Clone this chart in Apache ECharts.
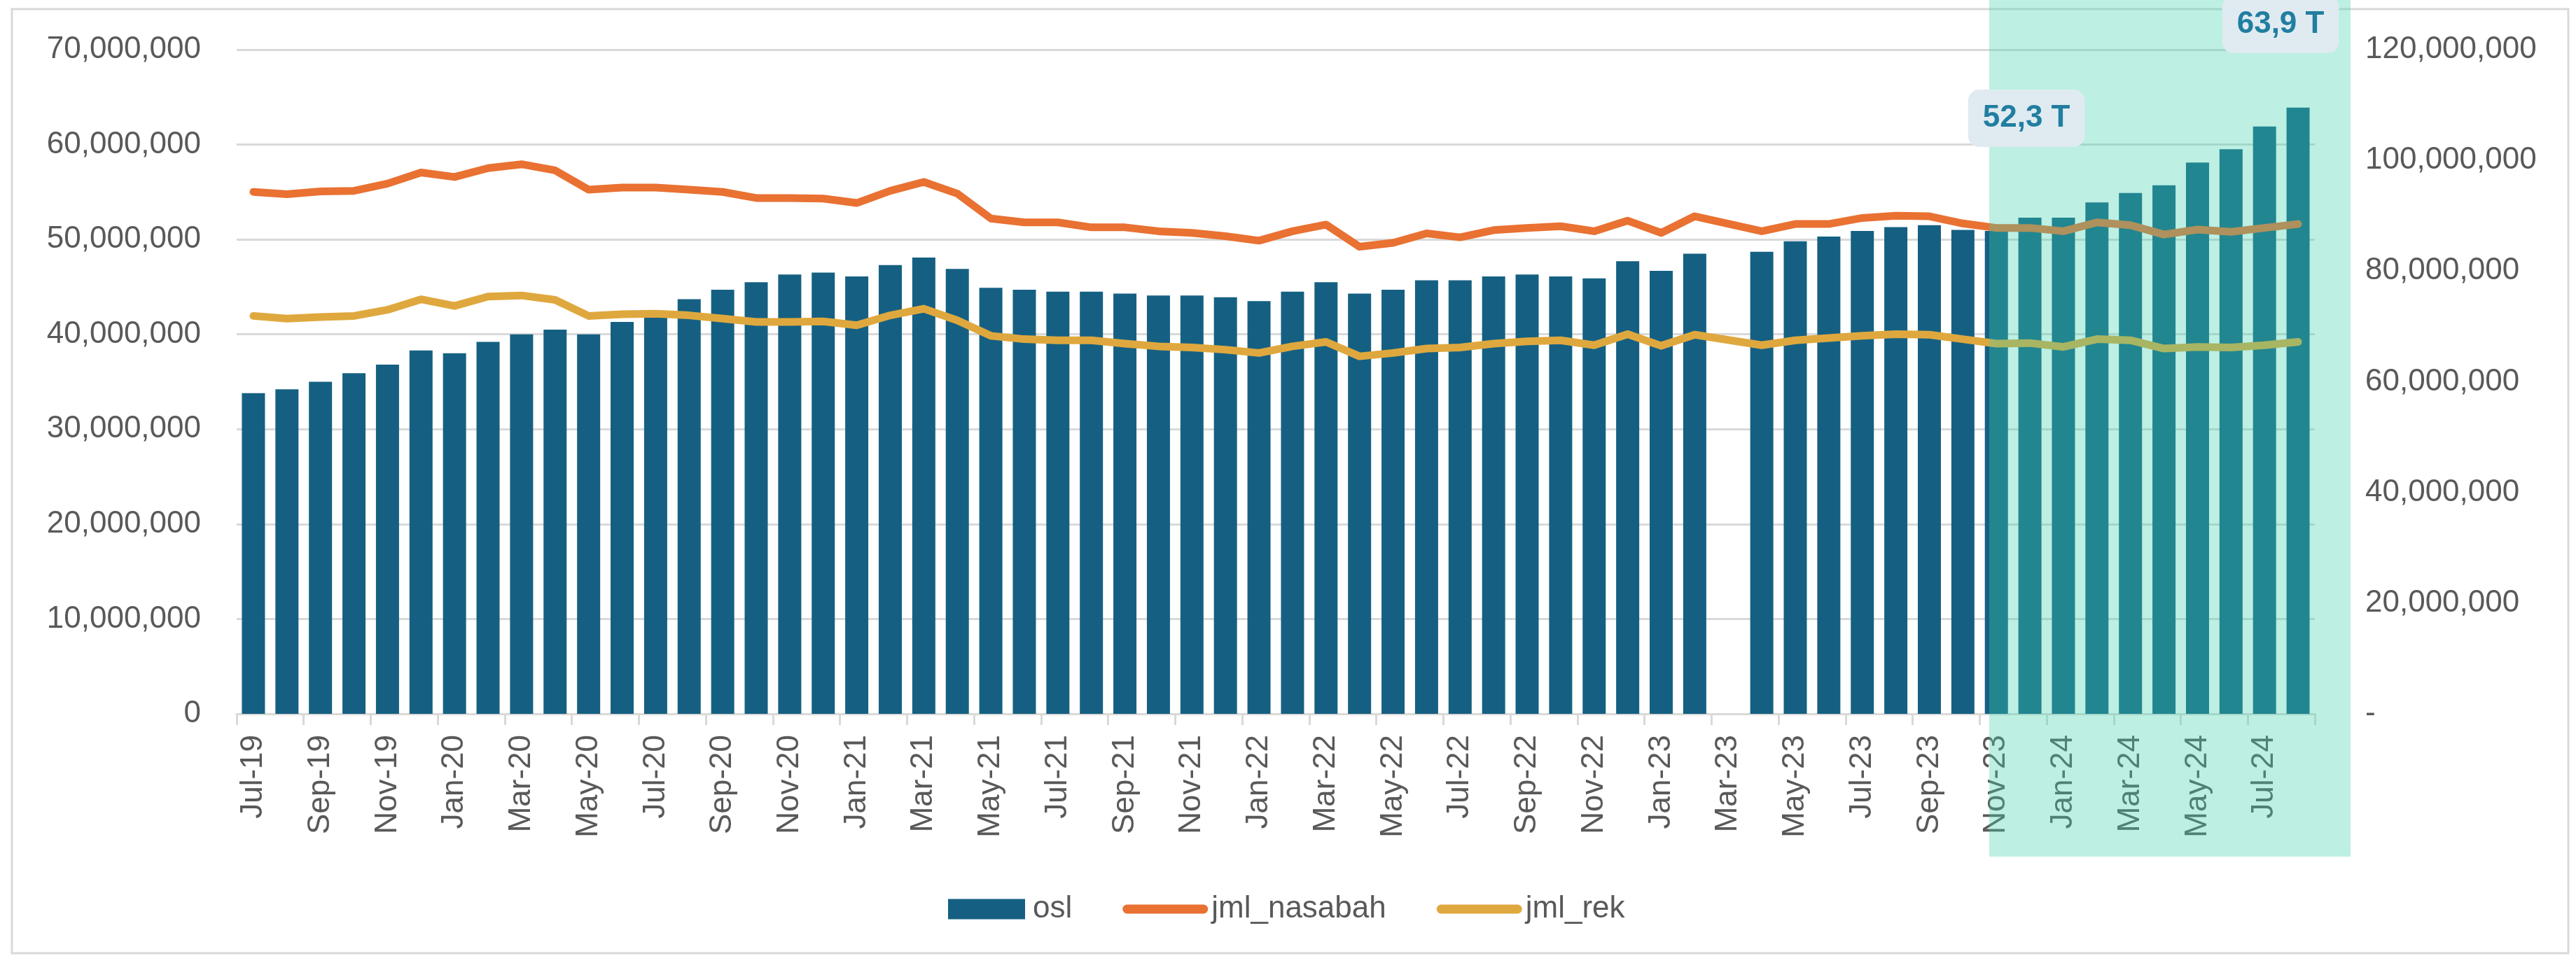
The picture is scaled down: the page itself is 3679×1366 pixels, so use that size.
<!DOCTYPE html>
<html>
<head>
<meta charset="utf-8">
<script src="https://cdn.jsdelivr.net/npm/echarts@6/dist/echarts.min.js"></script>
<style>
html, body { margin: 0; padding: 0; background: #fff; }
#chart { width: 3679px; height: 1366px; }
</style>
</head>
<body>
<div id="chart"></div>
<script>
const months = [
    'Jul-19', 'Aug-19', 'Sep-19', 'Oct-19', 'Nov-19', 'Dec-19',
    'Jan-20', 'Feb-20', 'Mar-20', 'Apr-20', 'May-20', 'Jun-20', 'Jul-20', 'Aug-20', 'Sep-20', 'Oct-20', 'Nov-20', 'Dec-20',
    'Jan-21', 'Feb-21', 'Mar-21', 'Apr-21', 'May-21', 'Jun-21', 'Jul-21', 'Aug-21', 'Sep-21', 'Oct-21', 'Nov-21', 'Dec-21',
    'Jan-22', 'Feb-22', 'Mar-22', 'Apr-22', 'May-22', 'Jun-22', 'Jul-22', 'Aug-22', 'Sep-22', 'Oct-22', 'Nov-22', 'Dec-22',
    'Jan-23', 'Feb-23', 'Mar-23', 'Apr-23', 'May-23', 'Jun-23', 'Jul-23', 'Aug-23', 'Sep-23', 'Oct-23', 'Nov-23', 'Dec-23',
    'Jan-24', 'Feb-24', 'Mar-24', 'Apr-24', 'May-24', 'Jun-24', 'Jul-24', 'Aug-24'
]

// outstanding (juta rupiah), Mar-23 kosong
const osl = [
    33800000, 34200000, 35000000, 35900000, 36800000, 38300000,
    38000000, 39200000, 40000000, 40500000, 40000000, 41300000, 42000000, 43700000, 44700000, 45500000, 46300000, 46500000,
    46100000, 47300000, 48100000, 46900000, 44900000, 44700000, 44500000, 44500000, 44300000, 44100000, 44100000, 43900000,
    43500000, 44500000, 45500000, 44300000, 44700000, 45700000, 45700000, 46100000, 46300000, 46100000, 45900000, 47700000,
    46700000, 48500000, null, 48700000, 49800000, 50300000, 50900000, 51300000, 51500000, 51000000, 50900000, 52300000,
    52300000, 53900000, 54900000, 55700000, 58100000, 59500000, 61900000, 63900000
]

const jmlNasabah = [
    94300000, 93900000, 94400000, 94500000, 95800000, 97800000,
    97000000, 98600000, 99300000, 98200000, 94700000, 95100000, 95100000, 94700000, 94300000, 93200000, 93200000, 93100000,
    92300000, 94500000, 96100000, 94000000, 89500000, 88800000, 88800000, 87900000, 87900000, 87200000, 86900000, 86300000,
    85500000, 87200000, 88400000, 84400000, 85100000, 86800000, 86100000, 87400000, 87800000, 88100000, 87200000, 89100000,
    86900000, 89900000, null, 87200000, 88500000, 88500000, 89600000, 90000000, 89900000, 88600000, 87800000, 87800000,
    87200000, 88800000, 88300000, 86600000, 87500000, 87100000, 87800000, 88500000
]

const jmlRek = [
    71900000, 71400000, 71700000, 71900000, 73000000, 74900000,
    73700000, 75400000, 75600000, 74800000, 71900000, 72200000, 72300000, 72000000, 71400000, 70800000, 70800000, 70900000,
    70200000, 72000000, 73200000, 71100000, 68300000, 67700000, 67500000, 67500000, 66900000, 66400000, 66200000, 65800000,
    65200000, 66400000, 67200000, 64600000, 65200000, 66000000, 66200000, 66900000, 67300000, 67500000, 66600000, 68600000,
    66500000, 68500000, null, 66600000, 67500000, 67900000, 68300000, 68600000, 68500000, 67700000, 66900000, 67000000,
    66300000, 67700000, 67500000, 66000000, 66300000, 66200000, 66600000, 67200000
]

// titik yang diberi keterangan (bulan, geser label)
const callouts = [
    { month: 'Dec-23', offset: [-5, -142] },
    { month: 'Aug-24', offset: [-25, -119] }
]

const fontFamily = '"Liberation Sans", Arial, sans-serif'
const labelColor = '#595959'
const gridColor = '#d9d9d9'
const lineIcon = 'path://M6.5,0H115.5A6.5,6.5 0 0 1 115.5,13H6.5A6.5,6.5 0 0 1 6.5,0Z'

function fmtNum(v) {
    return v.toLocaleString('en-US')
}

function fmtT(v) {
    return (v / 1000000).toFixed(1).replace('.', ',') + ' T'
}

const chart = echarts.init(document.getElementById('chart'))

chart.setOption({
    animation: false,
    textStyle: { fontFamily: fontFamily },
    grid: {
        left: 338,
        right: 373,
        top: 71,
        bottom: 346
    },
    legend: {
        left: 1349,
        top: 1272,
        itemWidth: 122,
        itemHeight: 29,
        itemGap: 72,
        symbolKeepAspect: true,
        textStyle: { fontSize: 44, color: labelColor, fontFamily: fontFamily },
        data: [
            { name: 'osl', icon: 'path://M0,0H110V29H0Z' },
            { name: 'jml_nasabah', icon: lineIcon },
            { name: 'jml_rek', icon: lineIcon }
        ]
    },
    xAxis: {
        type: 'category',
        data: months,
        boundaryGap: true,
        axisLine: { lineStyle: { color: gridColor, width: 3 } },
        axisTick: {
            show: true,
            interval: 1,
            length: 16,
            lineStyle: { color: gridColor, width: 3 }
        },
        axisLabel: {
            interval: 1,
            rotate: 90,
            margin: 30,
            fontSize: 44,
            color: labelColor
        },
        splitLine: { show: false }
    },
    yAxis: [{
        type: 'value',
        min: 0,
        max: 70000000,
        interval: 10000000,
        axisLine: { show: false },
        axisTick: { show: false },
        axisLabel: {
            margin: 51,
            fontSize: 44,
            color: labelColor,
            formatter: v => fmtNum(v)
        },
        splitLine: { lineStyle: { color: gridColor, width: 3 } }
    }, {
        type: 'value',
        min: 0,
        max: 120000000,
        interval: 20000000,
        position: 'right',
        axisLine: { show: false },
        axisTick: { show: false },
        axisLabel: {
            margin: 72,
            fontSize: 44,
            color: labelColor,
            formatter: v => v === 0 ? '-' : fmtNum(v)
        },
        splitLine: { show: false }
    }],
    series: [{
        name: 'osl',
        type: 'bar',
        data: osl,
        barWidth: 33,
        itemStyle: { color: '#156082' },
        markPoint: {
            z: 6,
            symbol: 'circle',
            symbolSize: 1,
            itemStyle: { color: 'rgba(0,0,0,0)' },
            label: {
                show: true,
                position: 'inside',
                fontSize: 44,
                fontWeight: 'bold',
                lineHeight: 44,
                color: '#217ea0',
                backgroundColor: '#dfebf1',
                borderRadius: 16,
                padding: [19, 21],
                formatter: p => fmtT(p.value)
            },
            data: callouts.map(c => {
                const i = months.indexOf(c.month)
                return {
                    coord: [c.month, osl[i]],
                    value: osl[i],
                    label: { offset: c.offset }
                }
            })
        }
    }, {
        name: 'jml_nasabah',
        type: 'line',
        yAxisIndex: 1,
        data: jmlNasabah,
        connectNulls: true,
        symbol: 'none',
        z: 3,
        itemStyle: { color: '#e97132' },
        lineStyle: { color: '#e97132', width: 11, cap: 'round', join: 'round' }
    }, {
        name: 'jml_rek',
        type: 'line',
        yAxisIndex: 1,
        data: jmlRek,
        connectNulls: true,
        symbol: 'none',
        z: 3,
        itemStyle: { color: '#dfa83e' },
        lineStyle: { color: '#dfa83e', width: 11, cap: 'round', join: 'round' }
    }],
    graphic: [{
        // bingkai chart
        type: 'rect',
        z: 0,
        silent: true,
        shape: { x: 17, y: 13, width: 3651, height: 1349 },
        style: { fill: 'none', stroke: gridColor, lineWidth: 3 }
    }, {
        // sorotan Nov-23 s/d Aug-24
        type: 'rect',
        z: 4,
        silent: true,
        shape: { x: 2841, y: 0, width: 516, height: 1224 },
        style: { fill: 'rgba(62, 208, 174, 0.34)' }
    }]
})
</script>
</body>
</html>
